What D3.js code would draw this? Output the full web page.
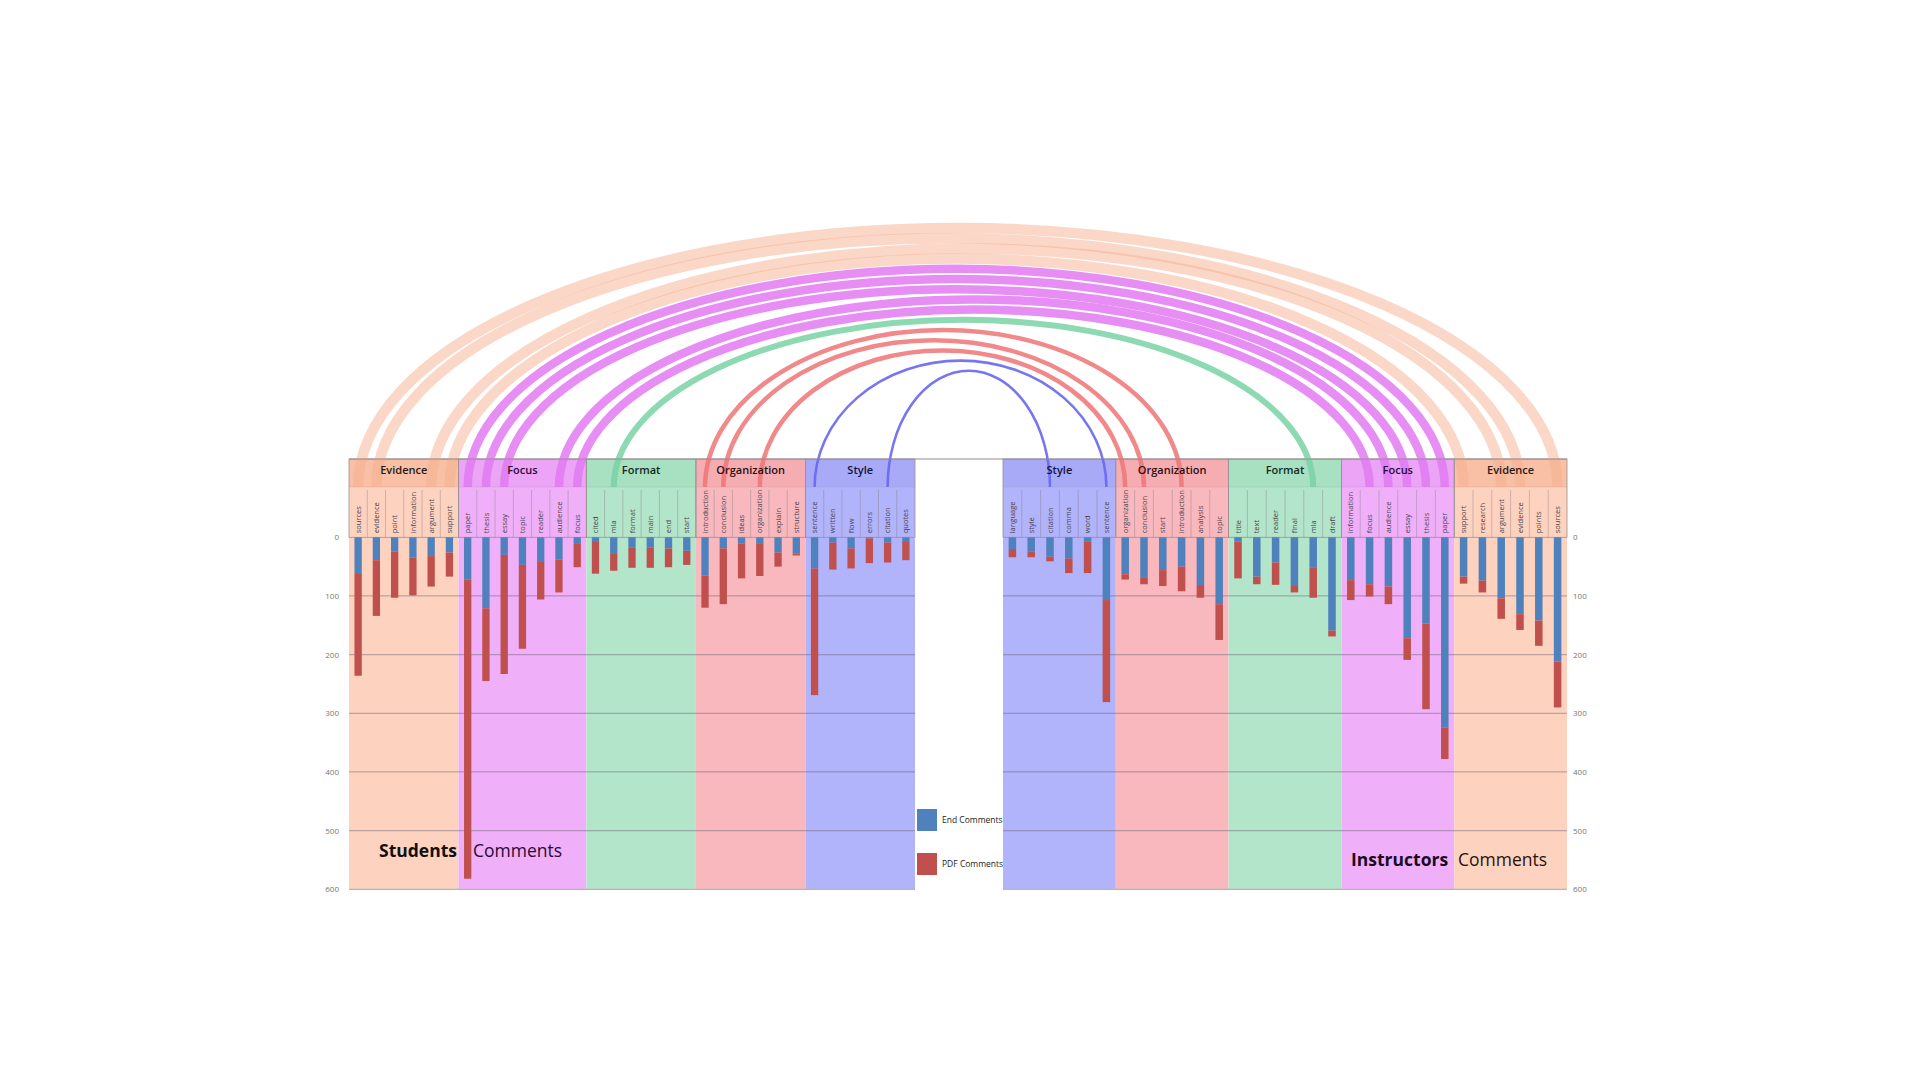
<!DOCTYPE html>
<html><head><meta charset="utf-8">
<script src="https://cdn.jsdelivr.net/npm/d3@7/dist/d3.min.js"></script>
<style>
html,body{margin:0;padding:0;background:#fff;}
svg{display:block;font-family:"Open Sans","Noto Sans",sans-serif;}
</style>
</head><body>
<svg id="chart" width="1920" height="1080"></svg>
<script>
// ---------------- DATA ----------------
const categories = ["Evidence","Focus","Format","Organization","Style"];

const studentWords = ["sources","evidence","point","information","argument","support",
  "paper","thesis","essay","topic","reader","audience","focus",
  "cited","mla","format","main","end","start",
  "introduction","conclusion","ideas","organization","explain","structure",
  "sentence","written","flow","errors","citation","quotes"];
const studentGroups = ["Evidence","Evidence","Evidence","Evidence","Evidence","Evidence",
  "Focus","Focus","Focus","Focus","Focus","Focus","Focus",
  "Format","Format","Format","Format","Format","Format",
  "Organization","Organization","Organization","Organization","Organization","Organization",
  "Style","Style","Style","Style","Style","Style"];
const studentEnd = [61,39,24,35,32,26, 72,121,30,47,42,38,10, 8,27,18,17,19,23, 65,19,11,10,26,28, 53,9,19,2,9,8];
const studentPdf = [175,95,79,64,52,41, 510,124,203,143,64,56,41, 54,30,34,35,32,24, 55,95,59,56,24,3, 216,46,34,42,34,31];

const instructorWords = ["language","style","citation","comma","word","sentence",
  "organization","conclusion","start","introduction","analysis","topic",
  "title","text","reader","final","mla","draft",
  "information","focus","audience","essay","thesis","paper",
  "support","research","argument","evidence","points","sources"];
const instructorGroups = ["Style","Style","Style","Style","Style","Style",
  "Organization","Organization","Organization","Organization","Organization","Organization",
  "Format","Format","Format","Format","Format","Format",
  "Focus","Focus","Focus","Focus","Focus","Focus",
  "Evidence","Evidence","Evidence","Evidence","Evidence","Evidence"];
const instructorEnd = [20,24,33,36,7,107, 63,68,56,50,83,114, 7,67,43,83,51,159, 73,80,84,172,147,324, 67,74,104,131,142,212];
const instructorPdf = [14,10,8,25,54,174, 9,12,27,42,20,61, 63,13,38,11,52,10, 34,21,30,37,146,54, 12,20,35,27,43,78];

const yTicks = [0,100,200,300,400,500,600];
const seriesNames = ["End Comments","PDF Comments"];

// ---------------- STYLES ----------------
const bgColor = {Evidence:"#FDD3C0",Focus:"#EFB0F9",Format:"#B3E5CB",Organization:"#F9B8BD",Style:"#B1B3FB"};
const stripColor = {Evidence:"#F9C0A5",Focus:"#EBA4F6",Format:"#A8E0C2",Organization:"#F6ADB2",Style:"#A8AAF8"};
const arcColor = {Evidence:"#F6AF8F",Focus:"#E27AF2",Format:"#78D2A4",Organization:"#EE7476",Style:"#6767EE"};
const arcWidth = {Evidence:10.5,Focus:8.5,Format:6,Organization:4.5,Style:2.6};
const arcOpacity = {Evidence:0.5,Focus:0.85,Format:0.85,Organization:0.85,Style:0.9};
const titleColor = {Evidence:"#2a1a14",Focus:"#2a0c33",Format:"#102a1c",Organization:"#2a1012",Style:"#12123a"};
const seriesColor = ["#4F81BD","#C0504D"];

const svg = d3.select("#chart");
const headerTop = 459, stripBottom = 487;
const y = d3.scaleLinear().domain([0,600]).range([537.3, 889.3]);

const gBg = svg.append("g"), gArcs = svg.append("g"), gFg = svg.append("g");

function drawPanel(p){
  const n = p.words.length;
  const x = d3.scaleBand().domain(d3.range(n)).range([p.x0,p.x1]).padding(0);
  const bw = x.bandwidth();
  const groups = [];
  p.groups.forEach((g,i)=>{
    const last = groups[groups.length-1];
    if(last && last.name===g){ last.i1=i; } else groups.push({name:g,i0:i,i1:i});
  });
  groups.forEach(g=>{ g.xa = x(g.i0); g.xb = x(g.i1)+bw; });

  gBg.selectAll(null).data(groups).enter().append("rect")
    .attr("x",d=>d.xa).attr("width",d=>d.xb-d.xa)
    .attr("y",headerTop).attr("height",y(600)-headerTop)
    .attr("fill",d=>bgColor[d.name]);
  gBg.selectAll(null).data(groups).enter().append("rect")
    .attr("x",d=>d.xa).attr("width",d=>d.xb-d.xa)
    .attr("y",headerTop).attr("height",stripBottom-headerTop)
    .attr("fill",d=>stripColor[d.name]);

  gBg.selectAll(null).data(yTicks.filter(t=>t>0&&t<600)).enter().append("line")
    .attr("x1",p.x0).attr("x2",p.x1).attr("y1",d=>y(d)).attr("y2",d=>y(d))
    .attr("stroke","#6e6478").attr("stroke-opacity",0.45).attr("stroke-width",1.3);
  gBg.append("line").attr("x1",p.x0).attr("x2",p.x1).attr("y1",y(600)).attr("y2",y(600))
    .attr("stroke","#b9b4bb").attr("stroke-width",1.2);

  gFg.selectAll(null).data(groups).enter().append("rect")
    .attr("x",d=>d.xa).attr("width",d=>d.xb-d.xa)
    .attr("y",headerTop).attr("height",y(0)-headerTop)
    .attr("fill","none").attr("stroke","#9a9090").attr("stroke-width",0.8);
  gFg.selectAll(null).data(groups).enter().append("line")
    .attr("x1",d=>d.xa).attr("x2",d=>d.xb).attr("y1",stripBottom).attr("y2",stripBottom)
    .attr("stroke","#9a9090").attr("stroke-opacity",0.35).attr("stroke-width",0.6);
  const seps = d3.range(n).filter(i=>i>0 && p.groups[i]===p.groups[i-1]);
  gFg.selectAll(null).data(seps).enter().append("line")
    .attr("x1",i=>x(i)).attr("x2",i=>x(i)).attr("y1",stripBottom+3).attr("y2",y(0))
    .attr("stroke","#8a8088").attr("stroke-opacity",0.6).attr("stroke-width",0.7);

  const rows = d3.range(n).map(i=>({i, "End Comments":p.end[i], "PDF Comments":p.pdf[i]}));
  const stacked = d3.stack().keys(seriesNames)(rows);
  const bwBar = bw*0.4;
  stacked.forEach((layer,k)=>{
    gFg.selectAll(null).data(layer).enter().append("rect")
      .attr("x",d=>x(d.data.i)+(bw-bwBar)/2).attr("width",bwBar)
      .attr("y",d=>y(d[0])).attr("height",d=>y(d[1])-y(d[0]))
      .attr("fill",seriesColor[k]);
  });

  gFg.selectAll(null).data(p.words).enter().append("text")
    .attr("transform",(d,i)=>`translate(${x(i)+bw/2+2.6},${y(0)-4}) rotate(-90)`)
    .attr("font-size",7.5).attr("fill","#4a3f4c").text(d=>d);

  const axis = (p.side==="left"? d3.axisLeft(y) : d3.axisRight(y))
    .tickValues(yTicks).tickSize(0).tickPadding(p.side==="left"?10:6);
  const ga = gFg.append("g").attr("transform",`translate(${p.side==="left"?p.x0:p.x1},0)`).call(axis);
  ga.select(".domain").remove();
  ga.selectAll("text").attr("font-size",8).attr("fill","#777").attr("font-family","'Open Sans',sans-serif");

  return {x,bw,groups};
}

const L = drawPanel({x0:349,x1:915,words:studentWords,groups:studentGroups,end:studentEnd,pdf:studentPdf,side:"left"});
const R = drawPanel({x0:1003,x1:1567,words:instructorWords,groups:instructorGroups,end:instructorEnd,pdf:instructorPdf,side:"right"});

gBg.append("line").attr("x1",349).attr("x2",1567).attr("y1",headerTop).attr("y2",headerTop)
  .attr("stroke","#8f8a8f").attr("stroke-width",1);

// ---------------- ARCS ----------------
const links = [];
studentWords.forEach((w,i)=>{
  const j = instructorWords.findIndex((v,k)=>v===w && instructorGroups[k]===studentGroups[i]);
  if(j>=0) links.push({word:w,group:studentGroups[i],xl:L.x(i)+L.bw/2,xr:R.x(j)+R.bw/2});
});
links.sort((a,b)=>(b.xr-b.xl)-(a.xr-a.xl));
links.forEach((d,r)=>{ d.apex = 228 + r*10.2; });
gArcs.selectAll(null).data(links).enter().append("path")
  .attr("d",d=>{
    const rx=(d.xr-d.xl)/2, ry=stripBottom-d.apex;
    return `M${d.xl},${stripBottom} A${rx},${ry} 0 0 1 ${d.xr},${stripBottom}`;
  })
  .attr("fill","none").attr("stroke",d=>arcColor[d.group])
  .attr("stroke-width",d=>arcWidth[d.group]).attr("stroke-opacity",d=>arcOpacity[d.group]);

[L,R].forEach(P=>{
  gArcs.selectAll(null).data(P.groups).enter().append("text")
    .attr("x",d=>(d.xa+d.xb)/2).attr("y",474).attr("text-anchor","middle")
    .attr("font-size",11).attr("font-weight",600).attr("fill",d=>titleColor[d.name])
    .text(d=>d.name);
});

svg.append("text").attr("x",379).attr("y",857).attr("font-size",17.5).attr("font-weight",700).attr("fill","#111").text("Students");
svg.append("text").attr("x",473).attr("y",857).attr("font-size",17.5).attr("fill","#2a0a35").text("Comments");
svg.append("text").attr("x",1351).attr("y",866).attr("font-size",17.5).attr("font-weight",700).attr("fill","#1a0a22").text("Instructors");
svg.append("text").attr("x",1458).attr("y",866).attr("font-size",17.5).attr("fill","#2a1208").text("Comments");

const lg = svg.append("g");
seriesNames.forEach((s,k)=>{
  lg.append("rect").attr("x",917).attr("y",809+k*44).attr("width",20).attr("height",22).attr("fill",seriesColor[k]);
  lg.append("text").attr("x",942).attr("y",820+k*44).attr("dy","0.35em").attr("font-size",8.5).attr("fill","#222").text(s);
});
</script>
</body></html>
